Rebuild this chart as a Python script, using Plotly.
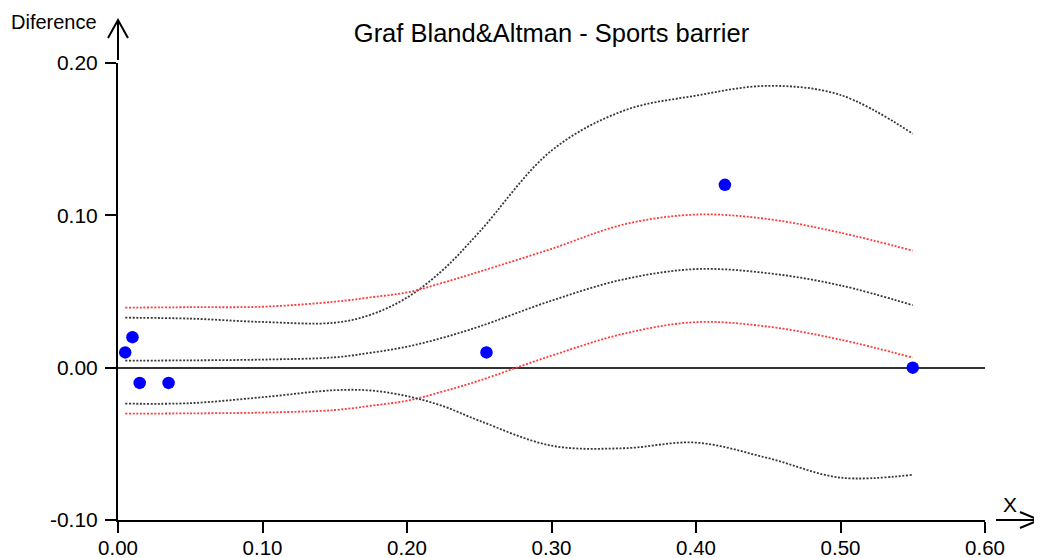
import plotly.graph_objects as go

# ---- data ----
grid_x = [0.005, 0.05, 0.10, 0.15, 0.175, 0.20, 0.225, 0.25, 0.30, 0.35, 0.40, 0.45, 0.50, 0.55]
upper_outer = [0.0328, 0.0322, 0.0300, 0.0295, 0.0348, 0.0460, 0.0643, 0.0890, 0.1425, 0.1687, 0.1786, 0.1850, 0.1790, 0.1536]
upper_ci = [0.0394, 0.0397, 0.0400, 0.0433, 0.0462, 0.0494, 0.0558, 0.0630, 0.0780, 0.0940, 0.1005, 0.0975, 0.0886, 0.0768]
fit_line = [0.0046, 0.0048, 0.0053, 0.0068, 0.0098, 0.0138, 0.0197, 0.0270, 0.0440, 0.0580, 0.0647, 0.0620, 0.0540, 0.0410]
lower_ci = [-0.0302, -0.0300, -0.0295, -0.0278, -0.0250, -0.0217, -0.0156, -0.0085, 0.0079, 0.0223, 0.0299, 0.0269, 0.0184, 0.0066]
lower_outer = [-0.0236, -0.0233, -0.0194, -0.0148, -0.0150, -0.0187, -0.0253, -0.0348, -0.0512, -0.0529, -0.0492, -0.0594, -0.0722, -0.0703]

pts_x = [0.005, 0.01, 0.015, 0.035, 0.255, 0.42, 0.55]
pts_y = [0.01, 0.02, -0.01, -0.01, 0.01, 0.12, 0.0]

x_ticks = [0.0, 0.1, 0.2, 0.3, 0.4, 0.5, 0.6]
x_tick_text = ["0.00", "0.10", "0.20", "0.30", "0.40", "0.50", "0.60"]
y_ticks = [-0.1, 0.0, 0.1, 0.2]
y_tick_text = ["-0.10", "0.00", "0.10", "0.20"]

title_text = "Graf Bland&Altman - Sports barrier"
y_label = "Diference"
x_label = "X"

# ---- figure (page body has an 8px margin) ----
OFF = 8
W, H = 1042 - OFF, 558 - OFF
L, T = 118 - OFF, 63 - OFF
R = W - (985 - OFF)
B = H - (520 - OFF)
PW, PH = W - L - R, H - T - B

def px(x):
    return (x - OFF - L) / PW

def py(y):
    return (H - B - (y - OFF)) / PH

fig = go.Figure()

black_dot = dict(color="#383838", width=1.8, dash="2px,1.6px")
red_dot = dict(color="#ff3b3b", width=1.8, dash="2px,1.6px")

for series, style in [(upper_outer, black_dot), (upper_ci, red_dot), (fit_line, black_dot),
                      (lower_ci, red_dot), (lower_outer, black_dot)]:
    fig.add_trace(go.Scatter(x=grid_x, y=series, mode="lines", line=dict(shape="spline", **style),
                             hoverinfo="skip"))

fig.add_trace(go.Scatter(x=pts_x, y=pts_y, mode="markers",
                         marker=dict(color="#0000ff", size=12.5, line=dict(width=0))))

axis_common = dict(showline=True, linecolor="black", linewidth=2, ticks="outside", ticklen=11,
                   tickwidth=2, tickcolor="black", showgrid=False, automargin=False)

fig.update_xaxes(range=[0, 0.6], tickvals=x_ticks, ticktext=x_tick_text, zeroline=False,
                 tickfont=dict(size=20.5, color="black"), ticklabelstandoff=-3, **axis_common)
fig.update_yaxes(range=[-0.1, 0.2], tickvals=y_ticks, ticktext=y_tick_text, zeroline=True,
                 zerolinecolor="#333333", zerolinewidth=1.5,
                 tickfont=dict(size=21, color="black"), ticklabelstandoff=3, **axis_common)

shapes = []
# y axis arrow
shapes.append(dict(type="line", xref="paper", yref="paper", x0=px(118), x1=px(118), y0=py(60), y1=py(20),
                   line=dict(color="black", width=2)))
shapes.append(dict(type="path", xref="paper", yref="paper",
                   path=f"M {px(108)} {py(38)} L {px(118)} {py(20)} L {px(128)} {py(38)}",
                   line=dict(color="black", width=2)))
# x axis arrow
shapes.append(dict(type="line", xref="paper", yref="paper", x0=px(996), x1=px(1039), y0=py(520), y1=py(520),
                   line=dict(color="black", width=2)))
shapes.append(dict(type="path", xref="paper", yref="paper",
                   path=f"M {px(1020)} {py(512)} L {px(1039)} {py(520)} L {px(1020)} {py(528)}",
                   line=dict(color="black", width=2)))

fig.update_layout(
    width=W, height=H,
    margin=dict(l=L, r=R, t=T, b=B),
    paper_bgcolor="white", plot_bgcolor="white",
    showlegend=False,
    font=dict(family="Liberation Sans, Arial, sans-serif", color="black"),
    title=dict(text=title_text, x=0.5, xref="paper", xanchor="center",
               y=1 - (33 - OFF) / H, yref="container", yanchor="middle",
               font=dict(size=25.5, color="black")),
    shapes=shapes,
    annotations=[
        dict(text=y_label, xref="paper", yref="paper", x=px(54), y=py(21.5), showarrow=False,
             xanchor="center", yanchor="middle", font=dict(size=20, color="black")),
        dict(text=x_label, xref="paper", yref="paper", x=px(1010), y=py(504), showarrow=False,
             xanchor="center", yanchor="middle", font=dict(size=21, color="black")),
    ],
)

fig.write_html("out.html")
